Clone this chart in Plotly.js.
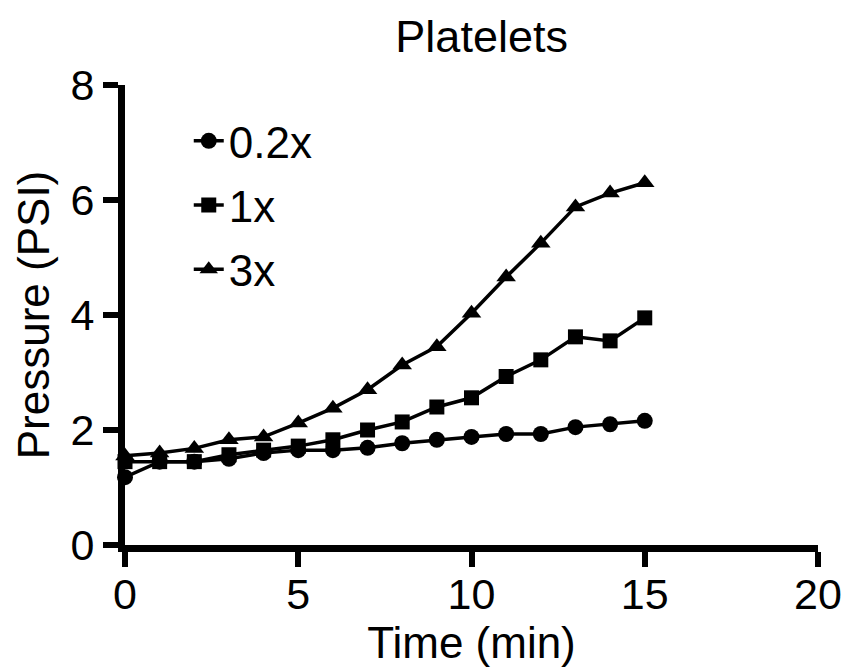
<!DOCTYPE html>
<html>
<head>
<meta charset="utf-8">
<script src="https://cdn.plot.ly/plotly-3.0.1.min.js"></script>
<style>html,body{margin:0;padding:0;background:#fff;}#chart{width:848px;height:671px;}</style>
</head>
<body>
<div id="chart"></div>
<script>
var timeMin = [0,1,2,3,4,5,6,7,8,9,10,11,12,13,14,15];
var p02x = [1.18,1.45,1.45,1.50,1.60,1.65,1.65,1.69,1.77,1.83,1.88,1.93,1.93,2.05,2.10,2.16];
var p1x  = [1.45,1.45,1.45,1.57,1.65,1.72,1.83,2.00,2.14,2.40,2.56,2.93,3.22,3.62,3.55,3.95];
var p3x  = [1.55,1.60,1.68,1.83,1.88,2.12,2.38,2.70,3.13,3.45,4.03,4.66,5.25,5.88,6.12,6.30];
var seriesNames = ['0.2x','1x','3x'];
var xTicks = [0,5,10,15,20];
var yTicks = [0,2,4,6,8];

var FONT = 'Liberation Sans, Arial, Helvetica, sans-serif';
var symbols = ['circle','square','triangle-up'];
var sizes = [16,15,17];
var ys = [p02x,p1x,p3x];
var traces = ys.map(function(y,i){
  return {
    x: timeMin, y: y, name: seriesNames[i], type:'scatter', mode:'lines+markers',
    legendgroup: 'g'+i,
    line:{color:'#000',width:3.5},
    marker:{symbol:symbols[i],size:sizes[i],color:'#000'},
    cliponaxis:false
  };
});
var layout = {
  width:848, height:671,
  margin:{l:125,r:30,t:85,b:126},
  paper_bgcolor:'#fff', plot_bgcolor:'#fff',
  font:{family:FONT,color:'#000',size:42},
  title:{text:'Platelets',font:{size:45,family:FONT,color:'#000'},x:0.568,xanchor:'center',y:0.946,yanchor:'middle'},
  showlegend:true,
  legend:{x:0.092,y:0.955,xanchor:'left',yanchor:'top',bgcolor:'rgba(0,0,0,0)',font:{size:44,family:FONT},tracegroupgap:4,itemwidth:30},
  xaxis:{range:[0,20],tickvals:xTicks,ticktext:xTicks.map(String),showgrid:false,zeroline:false,
    showline:true,linecolor:'#000',linewidth:7,ticks:'outside',ticklen:15,tickwidth:6,tickcolor:'#000',
    tickfont:{size:43,family:FONT},ticklabelstandoff:-10,
    title:{text:'Time (min)',font:{size:44,family:FONT},standoff:0}},
  yaxis:{range:[0,8],tickvals:yTicks,ticktext:yTicks.map(String),showgrid:false,zeroline:false,
    showline:true,linecolor:'#000',linewidth:7,ticks:'outside',ticklen:15,tickwidth:6,tickcolor:'#000',
    tickfont:{size:43,family:FONT},
    title:{text:'Pressure (PSI)',font:{size:44,family:FONT},standoff:10}}
};
Plotly.newPlot('chart',traces,layout,{displayModeBar:false,staticPlot:true});
</script>
</body>
</html>
